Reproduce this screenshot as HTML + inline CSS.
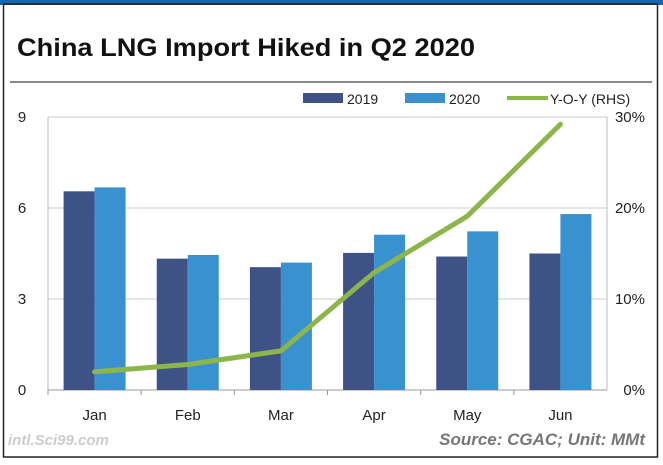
<!DOCTYPE html>
<html><head><meta charset="utf-8"><style>
body{margin:0;width:663px;height:465px;background:#fff;overflow:hidden;font-family:"Liberation Sans",sans-serif}
</style></head><body>
<svg width="663" height="465" style="position:absolute;left:0;top:0">
<rect x="0" y="0" width="663" height="5" fill="#1565b0"/>
<rect x="3.5" y="4" width="654" height="453" fill="none" stroke="#222" stroke-width="1.5"/>
<text x="17" y="56" font-size="25" font-weight="bold" fill="#111" textLength="458" lengthAdjust="spacingAndGlyphs">China LNG Import Hiked in Q2 2020</text>
<line x1="10" y1="82" x2="652" y2="82" stroke="#444" stroke-width="1.2"/>
<g id="legend" font-size="14" fill="#222">
<rect x="303" y="93" width="40" height="10" fill="#3e5285"/>
<text x="347" y="104">2019</text>
<rect x="405" y="93" width="40" height="10" fill="#3a91d0"/>
<text x="449" y="104">2020</text>
<line x1="507" y1="98" x2="548" y2="98" stroke="#8cb54c" stroke-width="4"/>
<text x="550" y="104">Y-O-Y (RHS)</text>
</g>
<g id="grid"></g><g id="bars"></g><g id="line"></g><g id="axes" font-size="15" fill="#222"></g>
<text x="645" y="445" font-size="17" font-weight="bold" font-style="italic" fill="#777" text-anchor="end">Source: CGAC; Unit: MMt</text>
<text x="8" y="445" font-size="15" font-weight="bold" font-style="italic" fill="#ccc">intl.Sci99.com</text>
</svg>
<script>
const categories=["Jan","Feb","Mar","Apr","May","Jun"];
const values2019=[6.55,4.33,4.05,4.52,4.4,4.5];
const values2020=[6.68,4.45,4.2,5.12,5.23,5.8];
const yoy=[2.0,2.8,4.3,12.9,19.1,29.2];
const leftTicks=[0,3,6,9];
const rightTicks=["0%","10%","20%","30%"];
const NS="http://www.w3.org/2000/svg";
const X0=48,X1=607,Y0=390,Y1=117;
const bw=(X1-X0)/categories.length;
const yL=v=>Y0-(v/9)*(Y0-Y1);
const yR=v=>Y0-(v/30)*(Y0-Y1);
const cx=i=>X0+bw*(i+0.5);
function mk(t,a,p){const e=document.createElementNS(NS,t);for(const k in a)e.setAttribute(k,a[k]);p.appendChild(e);return e;}
const grid=document.getElementById('grid'),bars=document.getElementById('bars'),line=document.getElementById('line'),axes=document.getElementById('axes');
leftTicks.forEach((v,i)=>{
 const g=mk('line',{x1:X0,x2:X1,y1:yL(v),y2:yL(v),stroke:v===0?'#999':'#ccc','stroke-width':1},grid);
 
 
 const t=mk('text',{x:22,y:yL(v)+5,'text-anchor':'middle'},axes);t.textContent=v;
 
 
 const r=mk('text',{x:645,y:yL(v)+5,'text-anchor':'end'},axes);r.textContent=rightTicks[i];
 
 
});
mk('line',{x1:X0,x2:X0,y1:Y1,y2:Y0,stroke:'#bbb'},grid);
mk('line',{x1:X1,x2:X1,y1:Y1,y2:Y0,stroke:'#bbb'},grid);
categories.forEach((c,i)=>{
 const w=31;
 const b1=mk('rect',{x:cx(i)-w,y:yL(values2019[i]),width:w,height:Y0-yL(values2019[i]),fill:'#3e5285'},bars);
 
 
 const b2=mk('rect',{x:cx(i),y:yL(values2020[i]),width:w,height:Y0-yL(values2020[i]),fill:'#3a91d0'},bars);
 
 
 const t=mk('text',{x:cx(i),y:420,'text-anchor':'middle'},axes);t.textContent=c;
 
 
 mk('line',{x1:X0+bw*i,x2:X0+bw*i,y1:Y0,y2:Y0+5,stroke:'#999'},grid);
});
const pts=yoy.map((v,i)=>cx(i)+','+yR(v)).join(' ');
const pl=mk('polyline',{points:pts,fill:'none',stroke:'#8cb54c','stroke-width':5,'stroke-linejoin':'round','stroke-linecap':'round'},line);


</script>
</body></html>
